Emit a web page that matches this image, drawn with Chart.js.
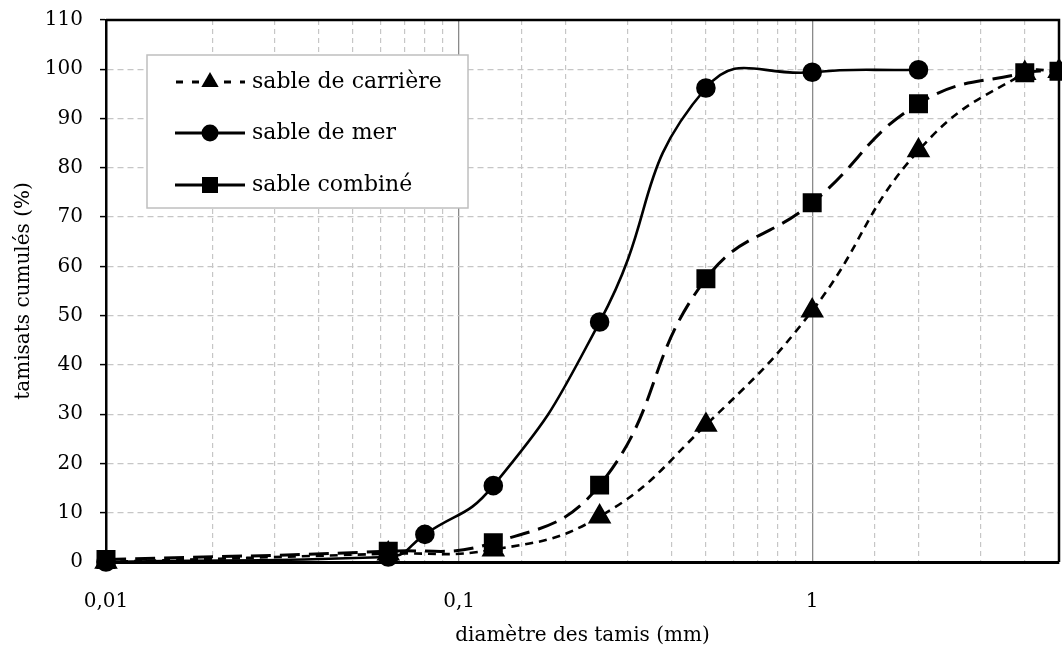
<!DOCTYPE html>
<html>
<head>
<meta charset="utf-8">
<script src="https://cdn.jsdelivr.net/npm/chart.js@4.4.0/dist/chart.umd.min.js"></script>
<style>
html,body{margin:0;padding:0;background:#fff;}
#wrap{width:1062px;height:655px;position:relative;}
</style>
</head>
<body>
<div id="wrap"><canvas id="c" width="1062" height="655"></canvas></div>
<script>
// Sieve sizes (mm)
const sizesCarriere = [0.01, 0.063, 0.125, 0.25, 0.5, 1, 2, 4, 5];
const valuesCarriere = [0, 1.7, 2.5, 9.2, 27.8, 51, 83.5, 99.2, 99.6];

const sizesMer = [0.01, 0.063, 0.08, 0.125, 0.25, 0.5, 1, 2];
const valuesMer = [0, 1, 5.6, 15.5, 48.7, 96.2, 99.4, 99.9];

const sizesCombine = [0.01, 0.063, 0.125, 0.25, 0.5, 1, 2, 4, 5];
const valuesCombine = [0.5, 2.2, 3.9, 15.6, 57.5, 72.9, 93, 99.3, 99.6];

const seriesNames = ['sable de carrière', 'sable de mer', 'sable combiné'];
const xTickLabels = {0.01: '0,01', 0.1: '0,1', 1: '1'};
const yTicks = [0, 10, 20, 30, 40, 50, 60, 70, 80, 90, 100, 110];

const FONT = "'DejaVu Serif', 'Liberation Serif', serif";

function pts(xs, ys) { return xs.map((x, i) => ({x: x, y: ys[i]})); }
function isMajor(v) { const l = Math.log10(v); return Math.abs(l - Math.round(l)) < 1e-6; }

const legendPlugin = {
  id: 'customLegendBorder',
  afterDatasetsDraw(chart) {
    const ctx = chart.ctx;
    const a = chart.chartArea;
    ctx.save();
    // top and right frame
    ctx.strokeStyle = '#000';
    ctx.lineWidth = 2.5;
    ctx.beginPath();
    ctx.moveTo(a.left, a.top);
    ctx.lineTo(a.right, a.top);
    ctx.lineTo(a.right, a.bottom);
    ctx.stroke();

    // legend box
    ctx.fillStyle = '#fff';
    ctx.fillRect(147, 55, 321, 153);
    ctx.strokeStyle = '#bfbfbf';
    ctx.lineWidth = 1.5;
    ctx.strokeRect(147, 55, 321, 153);

    const rows = [82, 133, 185];
    chart.data.datasets.forEach((ds, i) => {
      const y = rows[i];
      ctx.strokeStyle = '#000';
      ctx.lineWidth = 3;
      ctx.setLineDash(i === 0 ? [7, 9] : []);
      ctx.beginPath();
      ctx.moveTo(i === 0 ? 176 : 175, y);
      ctx.lineTo(245, y);
      ctx.stroke();
      ctx.setLineDash([]);
      ctx.fillStyle = '#000';
      const mx = 210;
      ctx.beginPath();
      if (ds.pointStyle === 'triangle') {
        const r = 10;
        ctx.moveTo(mx, y - r);
        ctx.lineTo(mx + r * 0.866, y + r * 0.5);
        ctx.lineTo(mx - r * 0.866, y + r * 0.5);
        ctx.closePath();
      } else if (ds.pointStyle === 'circle') {
        ctx.arc(mx, y, 8.5, 0, Math.PI * 2);
      } else {
        ctx.rect(mx - 8, y - 8, 16, 16);
      }
      ctx.fill();
      ctx.font = "22px " + FONT;
      ctx.textBaseline = 'middle';
      ctx.textAlign = 'left';
      ctx.fillText(ds.label, 252, y);
    });
    ctx.restore();
  }
};

new Chart(document.getElementById('c'), {
  type: 'line',
  data: {
    datasets: [
      {
        label: seriesNames[0],
        data: pts(sizesCarriere, valuesCarriere),
        borderColor: '#000', backgroundColor: '#000',
        borderWidth: 2.6, borderDash: [8, 6],
        pointStyle: 'triangle', pointRadius: 11, pointHoverRadius: 11,
        tension: 0.45, clip: false
      },
      {
        label: seriesNames[1],
        data: pts(sizesMer, valuesMer),
        borderColor: '#000', backgroundColor: '#000',
        borderWidth: 2.6,
        pointStyle: 'circle', pointRadius: 8.5, pointHoverRadius: 8.5,
        tension: 0.5, clip: false
      },
      {
        label: seriesNames[2],
        data: pts(sizesCombine, valuesCombine),
        borderColor: '#000', backgroundColor: '#000',
        borderWidth: 3, borderDash: [20, 9],
        pointStyle: 'rect', pointRadius: 11.3, pointHoverRadius: 11.3,
        tension: 0.45, clip: false
      }
    ]
  },
  options: {
    responsive: false,
    animation: false,
    events: [],
    layout: {autoPadding: false, padding: {top: 20, right: 3, left: 0, bottom: 0}},
    plugins: {legend: {display: false}, tooltip: {enabled: false}},
    scales: {
      x: {
        type: 'logarithmic',
        min: 0.01, max: 5,
        afterFit(s) { s.height = 93; s.paddingLeft = 0; s.paddingRight = 0; },
        grid: {
          color: (c) => (c.tick && isMajor(c.tick.value)) ? '#8a8a8a' : '#c6c6c6',
          lineWidth: (c) => (c.tick && isMajor(c.tick.value)) ? 1.3 : 1.2,
          drawTicks: false
        },
        border: {
          color: '#000', width: 3,
          dash: (c) => (c.tick && isMajor(c.tick.value)) ? [] : [5, 4]
        },
        ticks: {
          autoSkip: false, maxRotation: 0, padding: 28,
          color: '#000',
          font: {family: FONT, size: 20},
          callback: (v) => {
            for (const k in xTickLabels) { if (Math.abs(v - parseFloat(k)) < 1e-9) return xTickLabels[k]; }
            return '';
          }
        },
        title: {
          display: true, text: 'diamètre des tamis (mm)', color: '#000',
          font: {family: FONT, size: 20}, padding: {top: 0, bottom: 7}
        }
      },
      y: {
        min: 0, max: 110,
        afterFit(s) { s.width = 106; s.paddingTop = 0; s.paddingBottom = 0; },
        afterBuildTicks(s) { s.ticks = yTicks.map(v => ({value: v})); },
        grid: {color: '#c6c6c6', lineWidth: 1.2, tickColor: '#000', tickLength: 6, tickWidth: 1.5},
        border: {color: '#000', width: 2.5, dash: [6, 4]},
        ticks: {
          padding: 17, color: '#000',
          font: {family: FONT, size: 20}
        },
        title: {
          display: true, text: 'tamisats cumulés (%)', color: '#000',
          font: {family: FONT, size: 20}, padding: {top: 12, bottom: 0}
        }
      }
    }
  },
  plugins: [legendPlugin]
});
</script>
</body>
</html>
